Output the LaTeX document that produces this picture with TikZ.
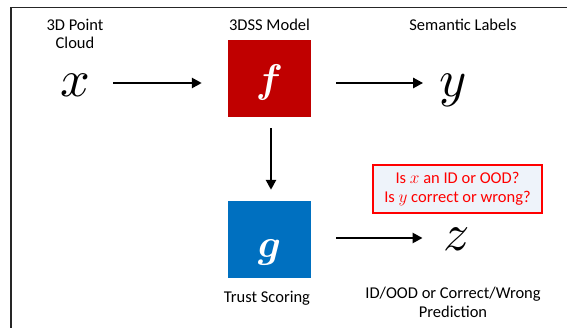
\documentclass[tikz,border=0pt]{standalone}
\usepackage{amsmath}
\usepackage{graphicx}
\usepackage{fontspec}
\setmainfont{Carlito}
\usetikzlibrary{arrows.meta}
\definecolor{boxred}{HTML}{C00000}
\definecolor{boxblue}{HTML}{0070C0}
\definecolor{qfill}{HTML}{EEF3FA}
\definecolor{qred}{HTML}{FF0000}
\newcommand{\bigvar}[1]{\scalebox{5.2}{$#1$}}
\newcommand{\boxvar}[1]{\scalebox{4}{$\boldsymbol{#1}$}}
\begin{document}
\begin{tikzpicture}[x=1pt,y=-1pt,
  lbl/.style={font=\fontsize{16.5}{18}\selectfont, text=black, align=center, inner sep=0pt, anchor=base},
  var/.style={inner sep=0pt, anchor=base},
  blk/.style={minimum width=83pt, minimum height=77pt, inner sep=0pt, draw=none},
  blkletter/.style={text=white, inner sep=0pt, anchor=base},
  qbox/.style={draw=qred, fill=qfill, line width=1.2pt, minimum width=169pt, minimum height=48pt, inner sep=0pt, text=qred, align=center, font=\fontsize{16.5}{19}\selectfont},
  arr/.style={line width=2.5pt, -{Triangle[length=10pt,width=10pt]}},
]
\useasboundingbox (0,0) rectangle (567,328);
% frame (top and left edges only)
\draw[line width=1.5pt, black!85] (11,328) -- (11,7.5) -- (567,7.5);
% labels
\node[lbl] (lx) at (75,49) {3D Point\\Cloud};
\node[lbl] (lf) at (269.5,31) {3DSS Model};
\node[lbl] (ly) at (463,31) {Semantic Labels};
\node[lbl] (lg) at (267,302) {Trust Scoring};
\node[lbl] (lz) at (453,317) {ID/OOD or Correct/Wrong\\Prediction};
% variables
\node[var] (x) at (75,97) {\bigvar{x}};
\node[var] (y) at (453,97) {\bigvar{y}};
\node[var] (z) at (457,251) {\bigvar{z}};
% model boxes
\node[blk, fill=boxred] (f) at (269.5,78.5) {};
\node[blk, fill=boxblue] (g) at (269.5,239.5) {};
\node[blkletter] (fl) at (269.5,93) {\boxvar{f}};
\node[blkletter] (gl) at (269.5,258) {\boxvar{g}};
% question box
\node[qbox] (q) at (457.5,189) {Is $x$ an ID or OOD?\\Is $y$ correct or wrong?};
% arrows
\draw[arr, shorten <=23pt, shorten >=26pt] (x.east |- 0,83) -- (f.west |- 0,83);
\draw[arr, shorten <=25pt, shorten >=16pt] (f.east |- 0,83) -- (y.west |- 0,83);
\draw[arr, shorten <=11pt, shorten >=11pt] (f.south -| 271,0) -- (g.north -| 271,0);
\draw[arr, shorten <=25pt, shorten >=21pt] (g.east |- 0,238) -- (z.west |- 0,238);
\end{tikzpicture}
\end{document}
